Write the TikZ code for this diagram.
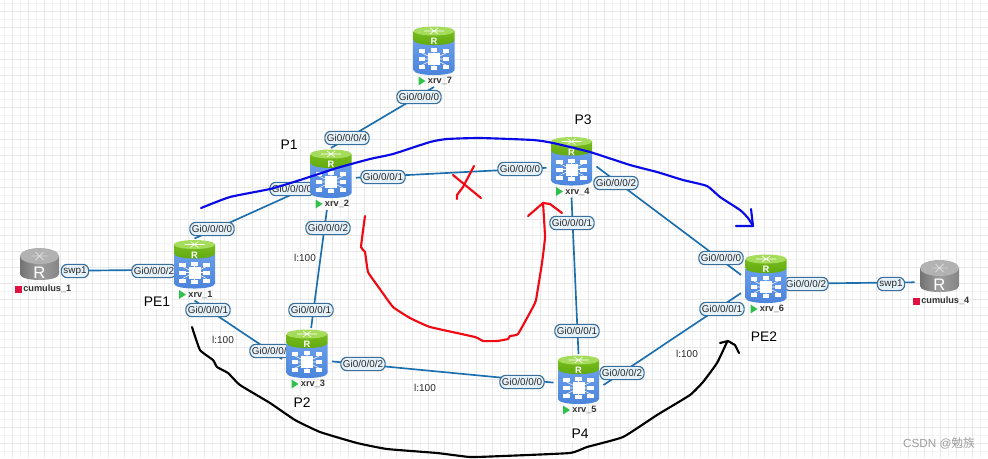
\documentclass[tikz,border=0pt]{standalone}
\usepackage{fontspec}
\setmainfont{Liberation Sans}
\newfontfamily\cjkwm{Noto Sans CJK SC}
\definecolor{linkblue}{HTML}{1B6FAE}
\definecolor{ifborder}{HTML}{3A6F9C}
\definecolor{iffill}{HTML}{E6F2FA}
\definecolor{gridmajor}{HTML}{E8E8E8}
\definecolor{gridminor}{HTML}{F4F4F4}
\definecolor{bodytop}{HTML}{6A9EEA}
\definecolor{bodybot}{HTML}{4A83DC}
\definecolor{greenband}{HTML}{5FA80F}
\definecolor{greenband2}{HTML}{78BC1E}
\definecolor{greentop}{HTML}{A6DC5C}
\definecolor{playgreen}{HTML}{2EC24A}
\definecolor{stopred}{HTML}{E0103F}
\definecolor{penblue}{HTML}{0A0AE6}
\definecolor{penred}{HTML}{F00A14}
\tikzset{
  devbox/.style={minimum width=37.5pt,minimum height=46.5pt,inner sep=0pt,outer sep=0pt},
  link/.style={draw=linkblue,line width=1.25pt},
  iflabel/.style={draw=ifborder,fill=iffill,rounded corners=4.5pt,line width=.85pt,font=\fontsize{7.4}{8}\selectfont,text=black!85,inner xsep=1.6pt,inner ysep=0pt,minimum height=10pt},
  devname/.style={font=\fontsize{6.9}{8}\selectfont\bfseries,text=black!80,inner sep=0pt},
  metric/.style={font=\fontsize{7.5}{9}\selectfont,text=black!85,fill=white,inner sep=.6pt},
  rolelabel/.style={font=\fontsize{10.4}{12}\selectfont,text=black,fill=white,inner sep=1.5pt},
  penblueline/.style={draw=penblue,line width=1.6pt,line cap=round,line join=round},
  penredline/.style={draw=penred,line width=1.6pt,line cap=round,line join=round},
  penblackline/.style={draw=black,line width=1.6pt,line cap=round,line join=round},
}
% #1 node name, #2 label text, #3 x, #4 y of the icon centre
\newcommand{\placedev}[4]{\node[devbox] (#1) at (#3,#4+5) {};}
\newcommand{\xrvicon}[3]{%
  \begin{scope}[shift={(#2,#3)}]
    \path[top color=bodytop,bottom color=bodybot] (-20.5,-11) -- (-20.5,19) .. controls (-20.5,25.7) and (20.5,25.7) .. (20.5,19) -- (20.5,-11) -- cycle;
    \path[top color=greenband2,bottom color=greenband] (-20.5,-20) -- (-20.5,-11) .. controls (-20.5,-4.3) and (20.5,-4.3) .. (20.5,-11) -- (20.5,-20) -- cycle;
    \fill[greentop] (0,-20) ellipse [x radius=20.5,y radius=4.5];
    \draw[white,line width=.45pt] (-10,-20) -- (10,-20) (-4,-23) -- (4,-17) (4,-23) -- (-4,-17);
    \node[text=white,font=\fontsize{7}{8}\selectfont\bfseries,inner sep=0pt] at (0,-9.5) {R};
    \draw[white,line width=.4pt] (-12,2) -- (12,14) (-12,14) -- (12,2) (-12,8) -- (12,8) (0,0) -- (0,16);
    \foreach \ax/\ay in {-12/0,0/-1,12/0,-12/8,12/8,-12/16,0/17,12/16}{
      \fill[white] (\ax-3.2,\ay-2) rectangle (\ax+3.2,\ay+2);
    }
    \fill[white] (-6,2) rectangle (6,14);
    \fill[playgreen] (-15.5,25.5) -- (-15.5,34.5) -- (-8.5,30) -- cycle;
    \node[devname] at (6,30) {#1};
  \end{scope}}
\newcommand{\cumulusicon}[4]{%
  \begin{scope}[shift={(#2,#3)}]
    \path[left color=black!55,right color=black!48,middle color=black!38] (-19.5,-8) -- (-19.5,10) .. controls (-19.5,18) and (19.5,18) .. (19.5,10) -- (19.5,-8) -- cycle;
    \fill[black!30] (0,-8) ellipse [x radius=19.5,y radius=8];
    \draw[white!85!black,line width=.7pt] (-8,-8) -- (8,-8) (-4,-12) -- (4,-4) (4,-12) -- (-4,-4);
    \node[text=white,font=\fontsize{12.5}{14}\selectfont,inner sep=0pt] at (0,8.5) {R};
    \fill[stopred] (#4-4,21.5) rectangle (#4+3,28.5);
    \node[devname,anchor=west] at (#4+4.5,25) {#1};
  \end{scope}}
\begin{document}
\begin{tikzpicture}[x=.75pt,y=-.75pt]
\useasboundingbox (0,0) rectangle (988,458);
\fill[white] (0,0) rectangle (988,458);
% grid
\foreach \n in {0,...,123}{\draw[gridminor,line width=.6pt] ({4.7+8*\n},0) -- ({4.7+8*\n},458);}
\foreach \n in {0,...,57}{\draw[gridminor,line width=.6pt] (0,{3.3+8*\n}) -- (988,{3.3+8*\n});}
\foreach \n in {0,...,61}{\draw[gridmajor,line width=.75pt] ({12.7+16*\n},0) -- ({12.7+16*\n},458);}
\foreach \n in {0,...,28}{\draw[gridmajor,line width=.75pt] (0,{11.3+16*\n}) -- (988,{11.3+16*\n});}
% device anchors
\placedev{r1}{xrv_1}{194.5}{264.5}
\placedev{r2}{xrv_2}{331}{174}
\placedev{r3}{xrv_3}{307}{354}
\placedev{r4}{xrv_4}{571.5}{161.5}
\placedev{r5}{xrv_5}{578.5}{380}
\placedev{r6}{xrv_6}{766}{279}
\placedev{r7}{xrv_7}{434}{51}
\node[devbox,minimum height=37.5pt] (c1) at (39.5,271) {};
\node[devbox,minimum height=37.5pt] (c4) at (939.5,282) {};
% links
\draw[link] (c1) -- (r1);
\draw[link] (r1.north) -- (r2.200);
\draw[link] (r1.south) -- (r3.west);
\draw[link] (r2) -- (r3);
\draw[link] (r2.north) -- (r7.south);
\draw[link] (r2) -- (r4);
\draw[link] (r3) -- (r5);
\draw[link] (r4.south) -- (r5.north);
\draw[link] (r4.east) -- (r6.160);
\draw[link] (r5.east) -- (r6.200);
\draw[link] (r6) -- (c4);
% interface labels
\node[iflabel] (l01) at (75,271) {swp1};
\node[iflabel] (l02) at (154,271) {Gi0/0/0/2};
\node[iflabel] (l03) at (212,229) {Gi0/0/0/0};
\node[iflabel] (l04) at (208,310) {Gi0/0/0/1};
\node[iflabel] (l05) at (292,189) {Gi0/0/0/0};
\node[iflabel] (l06) at (347,138) {Gi0/0/0/4};
\node[iflabel] (l07) at (383,177) {Gi0/0/0/1};
\node[iflabel] (l08) at (328,228) {Gi0/0/0/2};
\node[iflabel] (l09) at (419,97) {Gi0/0/0/0};
\node[iflabel] (l10) at (311,310) {Gi0/0/0/1};
\node[iflabel] (l11) at (272,351) {Gi0/0/0/0};
\node[iflabel] (l12) at (363,364) {Gi0/0/0/2};
\node[iflabel] (l13) at (520,169) {Gi0/0/0/0};
\node[iflabel] (l14) at (616,183) {Gi0/0/0/2};
\node[iflabel] (l15) at (572,223) {Gi0/0/0/1};
\node[iflabel] (l16) at (577,331) {Gi0/0/0/1};
\node[iflabel] (l17) at (522,382) {Gi0/0/0/0};
\node[iflabel] (l18) at (622,373) {Gi0/0/0/2};
\node[iflabel] (l19) at (721,258) {Gi0/0/0/0};
\node[iflabel] (l20) at (722,309) {Gi0/0/0/1};
\node[iflabel] (l21) at (806,284) {Gi0/0/0/2};
\node[iflabel] (l22) at (891,284) {swp1};
% device icons
\xrvicon{xrv\_1}{194.5}{264.5}
\xrvicon{xrv\_2}{331}{174}
\xrvicon{xrv\_3}{307}{354}
\xrvicon{xrv\_4}{571.5}{161.5}
\xrvicon{xrv\_5}{578.5}{380}
\xrvicon{xrv\_6}{766}{279}
\xrvicon{xrv\_7}{434}{51}
\cumulusicon{cumulus\_1}{39.5}{264}{-21}
\cumulusicon{cumulus\_4}{939.5}{276}{-23}
% metrics
\node[metric] (m1) at (305,258) {l:100};
\node[metric] (m2) at (223,340) {l:100};
\node[metric] (m3) at (425,388) {l:100};
\node[metric] (m4) at (687,354) {l:100};
% roles
\node[rolelabel] (p1) at (289,145) {P1};
\node[rolelabel] (pe1) at (157,302) {PE1};
\node[rolelabel] (p2) at (302,403) {P2};
\node[rolelabel] (p3) at (583,120) {P3};
\node[rolelabel] (p4) at (580,434) {P4};
\node[rolelabel] (pe2) at (764,337) {PE2};
% hand-drawn strokes
\draw[penblueline] plot[smooth,tension=.3] coordinates {(201,208) (230,197) (270,189) (297,181) (337,168) (370,159) (393,154) (430,142) (447,139) (480,138) (533,140) (553,143) (590,152) (630,165) (657,172) (683,180) (707,186) (720,197) (740,210) (748,218) (753,226)};
\draw[penblueline] (751,209) -- (753,226) -- (736,226);
\draw[penredline] plot[smooth,tension=.2] coordinates {(365,216) (361,247) (365,252) (368,272) (377,285) (393,307) (410,318) (430,327) (475,337) (483,341) (497,341) (508,339) (510,336) (518,334) (533,307) (536,300) (542,263) (545,237) (543,203)};
\draw[penredline] (528,216) -- (543,203) -- (550,204) -- (562,213);
\draw[penredline] (453,175) -- (481,198);
\draw[penredline] (474,166) -- (463,187) -- (457,195) -- (457,199);
\draw[penblackline] plot[smooth,tension=.25] coordinates {(192,327) (200,350) (213,360) (217,367) (228,373) (240,385) (270,403) (295,420) (320,432) (357,443) (387,449) (437,453) (470,457) (503,456) (570,453) (587,447) (623,437) (657,415) (690,395) (703,382) (717,363) (727,342)};
\draw[penblackline] (720,343) -- (728,341) -- (735,345) -- (739,353);
% watermark
\node[text=black!38,font=\fontsize{8.8}{10}\selectfont,inner sep=0pt] (wm) at (939,443) {CSDN @{\cjkwm 勉族}};
\end{tikzpicture}
\end{document}
